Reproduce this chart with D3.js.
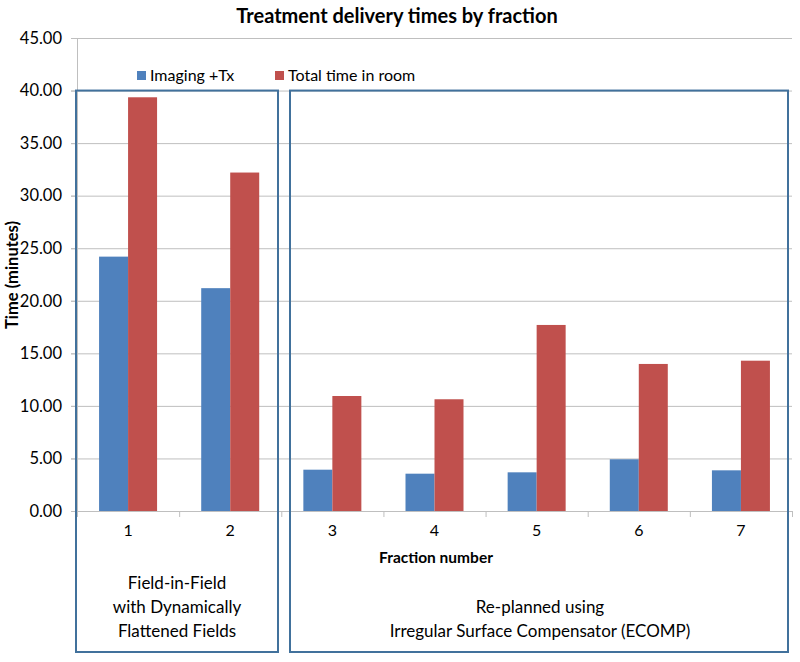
<!DOCTYPE html>
<html><head><meta charset="utf-8">
<script src="https://cdn.jsdelivr.net/npm/d3@7"></script>
<style>body{margin:0;background:#fff}text{font-family:Lato,"Open Sans",sans-serif}</style>
</head><body><svg id="c" width="800" height="662"></svg>
<script>
const categories = ["1","2","3","4","5","6","7"];
const seriesNames = ["Imaging +Tx","Total time in room"];
const imaging = [24.2, 21.2, 3.93, 3.55, 3.68, 4.92, 3.87];
const totalRoom = [39.36, 32.2, 10.94, 10.63, 17.7, 13.99, 14.3];
const yTicks = [0,5,10,15,20,25,30,35,40,45];
const colors = ["#4F81BD","#C0504D"];
const groups = [
  {label:["Field-in-Field","with Dynamically","Flattened Fields"], from:"1", to:"2"},
  {label:["Re-planned using","Irregular Surface Compensator (ECOMP)"], from:"3", to:"7"}
];

const svg = d3.select("#c");
const L=77, R=792, T=38, B=511;
const x = d3.scaleBand().domain(categories).range([L,R]).paddingInner(0).paddingOuter(0);
const xs = d3.scaleBand().domain([0,1]).range([0,58]);
const y = d3.scaleLinear().domain([0,45]).range([B,T]);

// gridlines
svg.append("g").selectAll("line").data(yTicks).join("line")
  .attr("x1",L-6).attr("x2",R).attr("y1",d=>y(d)+0.5).attr("y2",d=>y(d)+0.5)
  .attr("stroke","#bfbfbf").attr("stroke-width",1);
// y axis
const ya = svg.append("g").attr("transform",`translate(${L},0)`)
  .call(d3.axisLeft(y).tickValues(yTicks).tickFormat(d3.format(".2f")).tickSize(6).tickPadding(9));
ya.select(".domain").attr("stroke","#bfbfbf");
ya.selectAll(".tick line").attr("stroke","#bfbfbf");
ya.selectAll("text").attr("font-size",16.5).attr("fill","#000").style("font-family","Lato,sans-serif");

// x axis
const xa = svg.append("g").attr("transform",`translate(0,${B})`)
  .call(d3.axisBottom(x).tickSize(0).tickPadding(14));
xa.select(".domain").attr("stroke","#bfbfbf");
xa.selectAll("text").attr("font-size",16).attr("fill","#000").style("font-family","Lato,sans-serif");
const bounds = categories.map(c=>x(c)).concat([x(categories[categories.length-1])+x.bandwidth()]);
svg.append("g").selectAll("line").data(bounds).join("line")
  .attr("x1",d=>d+0.5).attr("x2",d=>d+0.5).attr("y1",B).attr("y2",B+6).attr("stroke","#bfbfbf");

// bars
const data = [imaging,totalRoom];
data.forEach((vals,si)=>{
  svg.append("g").selectAll("rect").data(vals).join("rect")
    .attr("x",(d,i)=>x(categories[i])+(x.bandwidth()-58)/2+xs(si))
    .attr("width",xs.bandwidth())
    .attr("y",d=>y(d)).attr("height",d=>B-y(d))
    .attr("fill",colors[si]);
});

// title
svg.append("text").attr("x",397).attr("y",23).attr("text-anchor","middle")
  .attr("font-size",20).attr("font-weight","bold").text("Treatment delivery times by fraction");
// y title
svg.append("text").attr("transform","translate(18,275) rotate(-90)").attr("text-anchor","middle")
  .attr("font-size",16.5).attr("font-weight","bold").text("Time (minutes)");
// x title
svg.append("text").attr("x",436).attr("y",563).attr("text-anchor","middle")
  .attr("font-size",15.5).attr("font-weight","bold").text("Fraction number");

// legend
const legX=[137,275];
seriesNames.forEach((n,i)=>{
  svg.append("rect").attr("x",legX[i]).attr("y",71).attr("width",9).attr("height",9).attr("fill",colors[i]);
  svg.append("text").attr("x",legX[i]+13).attr("y",81).attr("font-size",16).text(n);
});

// group boxes
const boxX = [[76,278],[290,788]];
groups.forEach((g,gi)=>{
  const [x0,x1]=boxX[gi];
  svg.append("rect").attr("x",x0).attr("y",y(40)).attr("width",x1-x0).attr("height",652-y(40))
    .attr("fill","none").attr("stroke","#41719C").attr("stroke-width",2);
  const lines=g.label;
  const startY = 637 - (lines.length-1)*24;
  lines.forEach((t,li)=>{
    svg.append("text").attr("x",gi===0?177:540).attr("y",startY+li*24).attr("text-anchor","middle")
      .attr("font-size",17).text(t);
  });
});
</script></body></html>
